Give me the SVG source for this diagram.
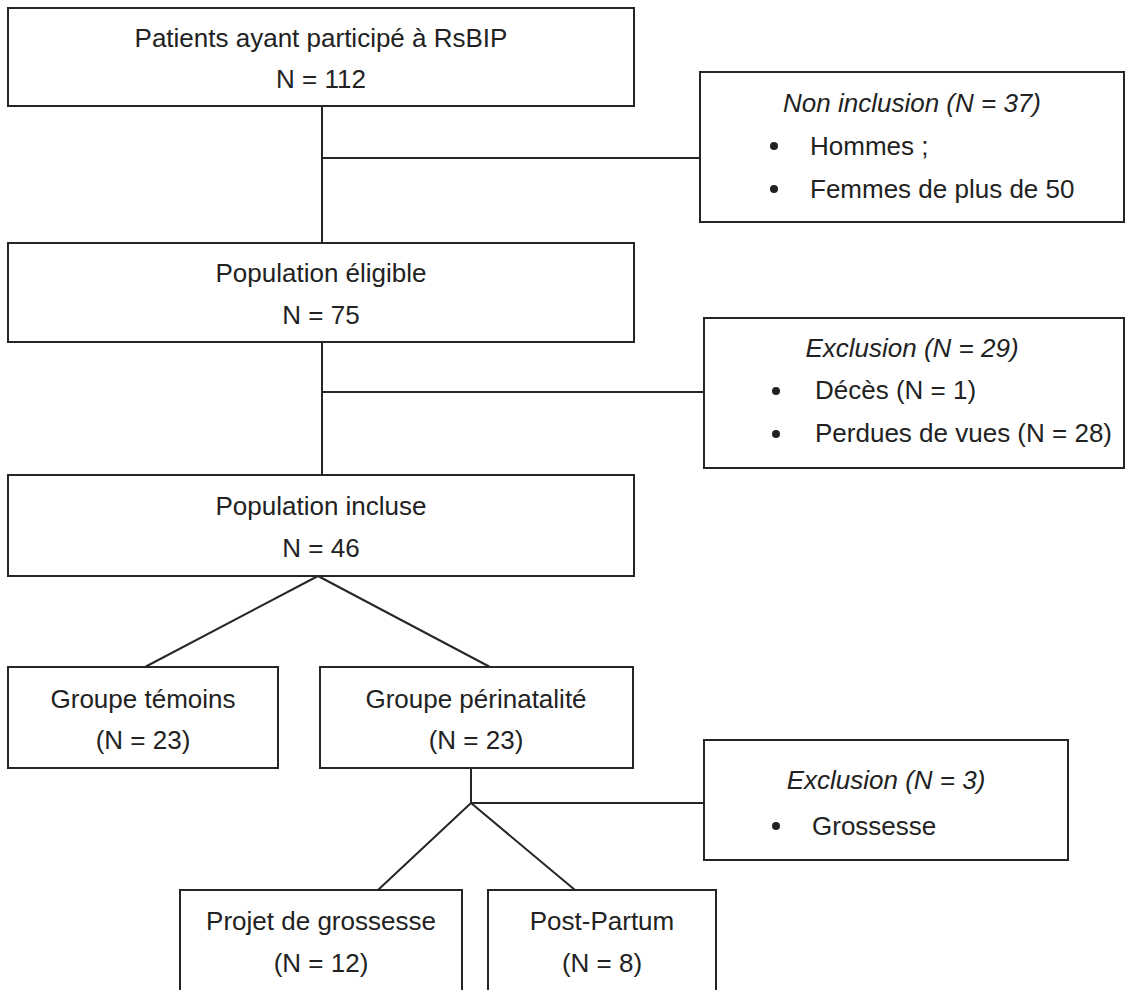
<svg xmlns="http://www.w3.org/2000/svg" width="1126" height="990" viewBox="0 0 1126 990">
<style>
.box{fill:#fff;stroke:#262626;stroke-width:2}
.ln{fill:none;stroke:#262626;stroke-width:2}
text{font-family:"Liberation Sans",Arial,sans-serif;font-size:26px;fill:#222}
.c{text-anchor:middle}
.i{font-style:italic}
.dot{fill:#222}
</style>
<rect width="1126" height="990" fill="#fff"/>
<g id="connectors">
<path class="ln" d="M322 106V243M322 158H700"/>
<path class="ln" d="M322 342V475M322 392H704"/>
<path class="ln" d="M318 576L145 667M318 576L490 667"/>
<path class="ln" d="M471 768V803M471 803H704"/>
<path class="ln" d="M471 803L378 890M471 803L575 890"/>
</g>
<g id="n1"><rect class="box" x="8" y="8" width="626" height="98"/>
<text class="c" x="321" y="47">Patients ayant participé à RsBIP</text>
<text class="c" x="321" y="88">N = 112</text></g>
<g id="n2"><rect class="box" x="700" y="72" width="424" height="150"/>
<text class="c i" x="912" y="112">Non inclusion (N = 37)</text>
<circle class="dot" cx="774" cy="146" r="4"/><text x="810" y="155">Hommes ;</text>
<circle class="dot" cx="774" cy="189" r="4"/><text x="810" y="198">Femmes de plus de 50</text></g>
<g id="n3"><rect class="box" x="8" y="243" width="626" height="99"/>
<text class="c" x="321" y="282">Population éligible</text>
<text class="c" x="321" y="324">N = 75</text></g>
<g id="n4"><rect class="box" x="704" y="318" width="420" height="150"/>
<text class="c i" x="912" y="357">Exclusion (N = 29)</text>
<circle class="dot" cx="776" cy="391" r="4"/><text x="815" y="399">Décès (N = 1)</text>
<circle class="dot" cx="776" cy="434" r="4"/><text x="815" y="442">Perdues de vues (N = 28)</text></g>
<g id="n5"><rect class="box" x="8" y="475" width="626" height="101"/>
<text class="c" x="321" y="515">Population incluse</text>
<text class="c" x="321" y="557">N = 46</text></g>
<g id="n6"><rect class="box" x="8" y="667" width="270" height="101"/>
<text class="c" x="143" y="708">Groupe témoins</text>
<text class="c" x="143" y="749">(N = 23)</text></g>
<g id="n7"><rect class="box" x="320" y="667" width="313" height="101"/>
<text class="c" x="476" y="708">Groupe périnatalité</text>
<text class="c" x="476" y="749">(N = 23)</text></g>
<g id="n8"><rect class="box" x="704" y="740" width="364" height="120"/>
<text class="c i" x="886" y="789">Exclusion (N = 3)</text>
<circle class="dot" cx="776" cy="826" r="4"/><text x="812" y="835">Grossesse</text></g>
<g id="n9"><rect class="box" x="180" y="890" width="282" height="110"/>
<text class="c" x="321" y="930">Projet de grossesse</text>
<text class="c" x="321" y="972">(N = 12)</text></g>
<g id="n10"><rect class="box" x="488" y="890" width="228" height="110"/>
<text class="c" x="602" y="930">Post-Partum</text>
<text class="c" x="602" y="972">(N = 8)</text></g>
</svg>
